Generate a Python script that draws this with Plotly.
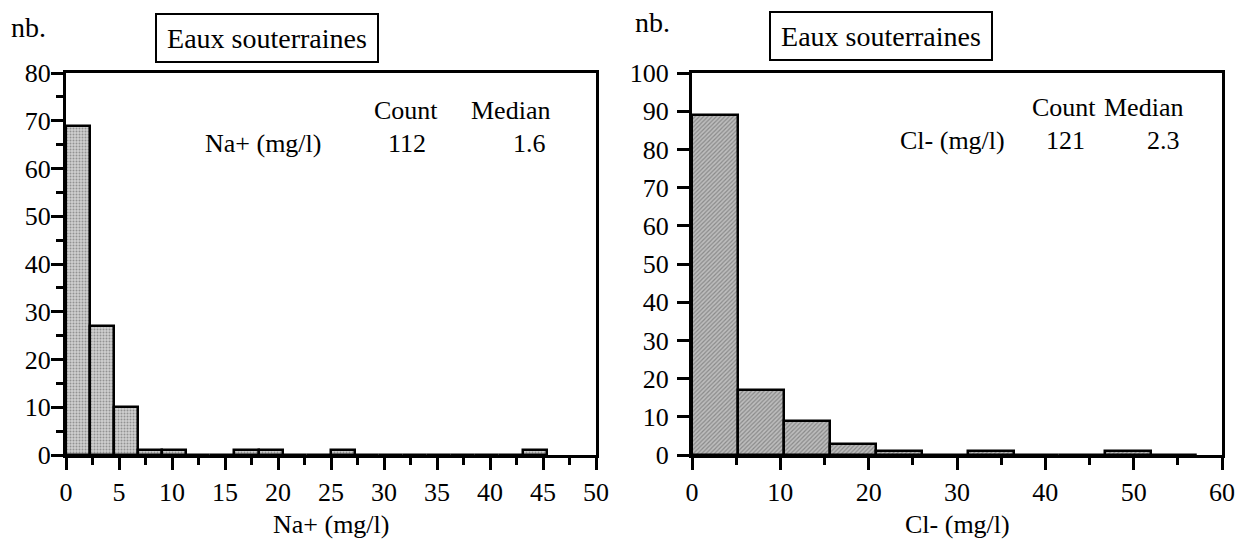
import plotly.graph_objects as go

# ---------------- data ----------------
na_bin_width = 2.27
na_counts = [69, 27, 10, 1, 1, 0, 0, 1, 1, 0, 0, 1, 0, 0, 0, 0, 0, 0, 0, 1]
cl_bin_width = 5.2
cl_counts = [89, 17, 9, 3, 1, 0, 1, 0, 0, 1, 0]

na_ticks = [0, 5, 10, 15, 20, 25, 30, 35, 40, 45, 50]
cl_ticks = [0, 10, 20, 30, 40, 50, 60]
na_yticks = [0, 10, 20, 30, 40, 50, 60, 70, 80]
cl_yticks = [0, 10, 20, 30, 40, 50, 60, 70, 80, 90, 100]

title_text = "Eaux souterraines"
na_label = "Na+ (mg/l)"
cl_label = "Cl- (mg/l)"
na_count, na_median = "112", "1.6"
cl_count, cl_median = "121", "2.3"

# ---------------- helpers ----------------
W, H = 1237, 541
FONT = "'Liberation Serif', 'Times New Roman', Times, serif"


def px(x):
    return x / W


def py(y):
    return 1 - y / H


na_left = [i * na_bin_width for i in range(len(na_counts))]
cl_left = [i * cl_bin_width for i in range(len(cl_counts))]

fig = go.Figure()
fig.add_trace(go.Bar(
    x=na_left, y=na_counts, width=na_bin_width, offset=0,
    marker=dict(color="#c4c4c4", line=dict(color="black", width=2.5),
                pattern=dict(shape=".", fgcolor="#555555", bgcolor="#cfcfcf",
                             size=3, solidity=0.35)),
    xaxis="x", yaxis="y", showlegend=False, hoverinfo="x+y"))
fig.add_trace(go.Bar(
    x=cl_left, y=cl_counts, width=cl_bin_width, offset=0,
    marker=dict(color="#a8a8a8", line=dict(color="black", width=2.5),
                pattern=dict(shape="/", fgcolor="#555555", bgcolor="#bdbdbd",
                             size=3, solidity=0.4)),
    xaxis="x2", yaxis="y2", showlegend=False, hoverinfo="x+y"))

axis_common = dict(
    showgrid=False, zeroline=False, showline=True, linecolor="black",
    linewidth=3, mirror=True, ticks="outside", ticklen=12, tickwidth=2.5,
    tickcolor="black", tickfont=dict(family=FONT, size=26, color="black"),
    automargin=False,
)

ydom = [py(455), py(73)]

fig.update_layout(
    width=W, height=H,
    margin=dict(l=0, r=0, t=0, b=0),
    paper_bgcolor="white", plot_bgcolor="white",
    bargap=0,
    font=dict(family=FONT, color="black"),
    xaxis=dict(domain=[px(66), px(596)], range=[0, 50], tickvals=na_ticks,
               minor=dict(dtick=2.5, ticks="outside", ticklen=7, tickwidth=2.5, tickcolor="black"),
               ticklabelstandoff=0, anchor="y", **axis_common),
    yaxis=dict(domain=ydom, range=[0, 80], tickvals=na_yticks,
               minor=dict(dtick=5, ticks="outside", ticklen=7, tickwidth=2.5, tickcolor="black"),
               ticklabelstandoff=-5, anchor="x", **axis_common),
    xaxis2=dict(domain=[px(692), px(1222)], range=[0, 60], tickvals=cl_ticks,
                minor=dict(dtick=5, ticks="outside", ticklen=7, tickwidth=2.5, tickcolor="black"),
                ticklabelstandoff=0, anchor="y2", **axis_common),
    yaxis2=dict(domain=ydom, range=[0, 100], tickvals=cl_yticks,
                ticklabelstandoff=3, anchor="x2", **axis_common),
)

annotations = []


def txt(text, x, y, xanchor="right", size=26):
    annotations.append(dict(text=text, x=px(x), y=py(y), xref="paper", yref="paper",
                            xanchor=xanchor, yanchor="middle", showarrow=False,
                            font=dict(family=FONT, size=size, color="black")))


# "nb." labels
txt("nb.", 9, 28, xanchor="left", size=28)
txt("nb.", 633, 23, xanchor="left", size=28)

# axis titles
txt(na_label, 331, 524, xanchor="center", size=26)
txt(cl_label, 957, 524, xanchor="center", size=26)

# title boxes
for cx, cy in [(267, 38), (881, 36)]:
    annotations.append(dict(text=title_text, x=px(cx), y=py(cy), xref="paper", yref="paper",
                            xanchor="center", yanchor="middle", showarrow=False,
                            font=dict(family=FONT, size=28, color="black"),
                            bordercolor="black", borderwidth=2, borderpad=0,
                            width=220, height=46, bgcolor="white"))

# stats blocks
txt("Count", 440, 110)
txt("Median", 552, 110)
txt(na_label, 323, 143)
txt(na_count, 428, 143)
txt(na_median, 548, 143)

txt("Count", 1098, 108)
txt("Median", 1185, 108)
txt(cl_label, 1007, 141)
txt(cl_count, 1087, 141)
txt(cl_median, 1182, 141)

fig.update_layout(annotations=annotations)
fig.write_html("out.html")
